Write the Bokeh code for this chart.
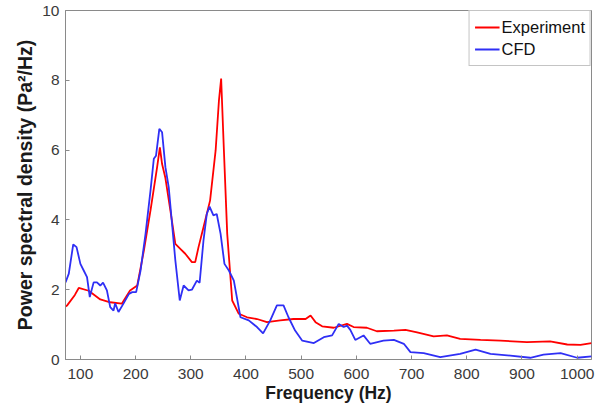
from bokeh.plotting import figure
from bokeh.models import Range1d, Legend, LegendItem
from bokeh.embed import file_html
from bokeh.resources import INLINE

exp_freq = [73, 76, 90, 97, 115, 136, 154, 175, 190, 203, 215, 227, 239, 244, 248, 254, 263, 272, 281,
            290, 302, 308, 314, 323, 335, 345, 351, 355, 360, 366, 375, 387, 402, 420, 438, 462, 486,
            508, 517, 526, 538, 559, 583, 595, 619, 637, 668, 689, 710, 740, 764, 788, 825, 861, 909,
            951, 982, 1006, 1026]
exp_psd = [1.52, 1.55, 1.85, 2.05, 1.97, 1.72, 1.64, 1.6, 1.98, 2.12, 3.12, 4.27, 5.51, 6.08, 5.6, 5.2,
           4.27, 3.31, 3.17, 3.03, 2.79, 2.79, 3.22, 3.79, 4.56, 5.99, 7.42, 8.05, 5.99, 3.6, 1.69,
           1.31, 1.21, 1.16, 1.07, 1.12, 1.16, 1.16, 1.26, 1.07, 0.95, 0.91, 1.02, 0.93, 0.91, 0.81,
           0.83, 0.85, 0.78, 0.66, 0.69, 0.59, 0.56, 0.54, 0.50, 0.52, 0.43, 0.42, 0.47]

cfd_freq = [73, 79, 87, 93, 100, 106, 112, 117, 124, 130, 136, 141, 148, 154, 160, 163, 169, 178, 188,
            194, 201, 209, 218, 227, 233, 237, 243, 248, 254, 260, 266, 272, 280, 287, 296, 302, 311,
            316, 323, 329, 334, 341, 347, 354, 361, 369, 378, 390, 405, 420, 431, 444, 456, 468, 477,
            489, 502, 523, 541, 556, 568, 577, 583, 589, 598, 613, 625, 649, 668, 686, 698, 722, 752,
            788, 816, 843, 879, 915, 939, 970, 1000, 1026]
cfd_psd = [2.21, 2.46, 3.3, 3.22, 2.74, 2.55, 2.36, 1.79, 2.21, 2.21, 2.12, 2.2, 1.98, 1.5, 1.4, 1.61,
           1.36, 1.6, 1.88, 1.93, 1.93, 2.55, 3.6, 4.84, 5.75, 5.84, 6.61, 6.51, 5.51, 4.94, 3.89,
           2.84, 1.69, 2.12, 1.98, 2.0, 2.26, 2.2, 3.41, 4.17, 4.38, 4.13, 4.17, 3.6, 2.74, 2.55, 2.26,
           1.21, 1.12, 0.93, 0.75, 1.12, 1.55, 1.55, 1.21, 0.83, 0.54, 0.47, 0.64, 0.69, 1.02, 0.93,
           0.97, 0.85, 0.56, 0.69, 0.45, 0.54, 0.56, 0.45, 0.21, 0.18, 0.07, 0.16, 0.28, 0.16, 0.11,
           0.05, 0.14, 0.18, 0.05, 0.09]

x_ticks = [100, 200, 300, 400, 500, 600, 700, 800, 900, 1000]
y_ticks = [0, 2, 4, 6, 8, 10]

FONT = "Liberation Sans"

p = figure(width=606, height=415, output_backend="svg", toolbar_location=None,
           x_range=Range1d(73, 1026), y_range=Range1d(0, 10),
           min_border_left=65, min_border_right=15, min_border_top=10, min_border_bottom=56)
p.xgrid.visible = False
p.ygrid.visible = False
p.outline_line_color = "#8a8a8a"
p.outline_line_width = 1
p.background_fill_color = "white"

r_exp = p.line(exp_freq, exp_psd, line_color="#ff0000", line_width=1.8)
r_cfd = p.line(cfd_freq, cfd_psd, line_color="#2f2ff5", line_width=1.8)

for ax in (p.xaxis[0], p.yaxis[0]):
    ax.axis_line_color = "#8a8a8a"
    ax.major_tick_line_color = "#8a8a8a"
    ax.major_tick_in = 4
    ax.major_tick_out = 0
    ax.minor_tick_line_color = None
    ax.major_label_text_font = FONT
    ax.major_label_text_font_size = "15.5px"
    ax.major_label_text_color = "#3a3a3a"
    ax.axis_label_text_font = FONT
    ax.axis_label_text_font_style = "bold"
    ax.axis_label_text_color = "#1a1a1a"

p.xaxis.axis_label_text_font_size = "17.5px"
p.yaxis.axis_label_text_font_size = "19.5px"
p.xaxis.ticker = x_ticks
p.yaxis.ticker = y_ticks
p.xaxis.axis_label = "Frequency (Hz)"
p.yaxis.axis_label = "Power spectral density (Pa\u00b2/Hz)"
p.xaxis.major_label_standoff = 9
p.xaxis.axis_label_standoff = 1
p.yaxis.major_label_standoff = 6
p.yaxis.axis_label_standoff = 3

legend = Legend(items=[LegendItem(label="Experiment", renderers=[r_exp]),
                       LegendItem(label="CFD", renderers=[r_cfd])],
                location="top_right")
legend.label_text_font = FONT
legend.label_text_font_size = "16.5px"
legend.label_text_color = "#111111"
legend.border_line_color = "#8a8a8a"
legend.border_line_width = 1
legend.margin = 0
legend.padding = 5
legend.spacing = 0
legend.glyph_width = 25
legend.glyph_height = 22
legend.label_height = 22
legend.label_standoff = 2
legend.background_fill_alpha = 1
p.add_layout(legend)

open("out.html", "w").write(file_html(p, INLINE))
